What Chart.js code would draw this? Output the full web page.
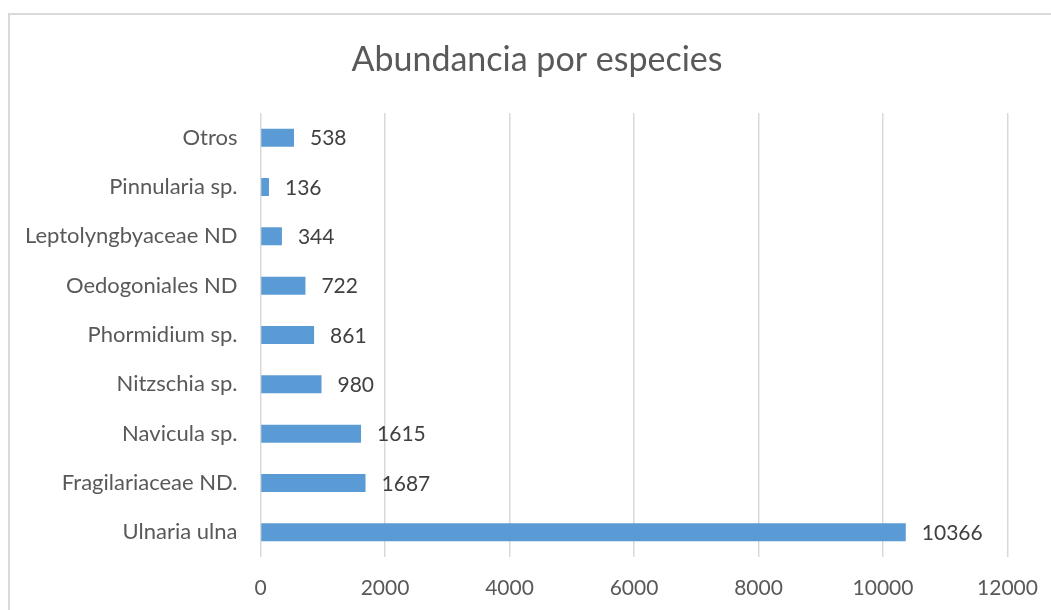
<!DOCTYPE html>
<html>
<head>
<meta charset="utf-8">
<script src="https://cdn.jsdelivr.net/npm/chart.js@4"></script>
<style>
  html, body { margin: 0; padding: 0; background: #fff; overflow: hidden; }
  #frame { position: absolute; left: 8px; top: 13px; width: 1100px; height: 700px; border: 2px solid #d9d9d9; }
  #wrap { position: absolute; left: 0; top: 0; width: 1051px; height: 610px; }
</style>
</head>
<body>
<div id="frame"></div>
<div id="wrap"><canvas id="speciesChart"></canvas></div>
<script>
const chartTitle = 'Abundancia por especies';
const species = ['Otros', 'Pinnularia sp.', 'Leptolyngbyaceae ND', 'Oedogoniales ND', 'Phormidium sp.',
                 'Nitzschia sp.', 'Navicula sp.', 'Fragilariaceae ND.', 'Ulnaria ulna'];
const abundance = [538, 136, 344, 722, 861, 980, 1615, 1687, 10366];
const xTicks = [0, 2000, 4000, 6000, 8000, 10000, 12000];

const FONT = 'Lato, "Open Sans", sans-serif';

// titulo y etiquetas de datos a mano
const labelPlugin = {
    id: 'labelPlugin',
    afterDatasetsDraw(chart) {
        const ctx = chart.ctx;
        ctx.save();
        ctx.font = '21px ' + FONT;
        ctx.fillStyle = '#404040';
        ctx.textBaseline = 'middle';
        ctx.textAlign = 'left';
        chart.getDatasetMeta(0).data.forEach((bar, i) => {
            ctx.fillText(String(abundance[i]), bar.x + 16, bar.y + 1);
        });
        ctx.font = '34px ' + FONT;
        ctx.fillStyle = '#595959';
        ctx.textAlign = 'center';
        ctx.fillText(chartTitle, 537, 60);
        ctx.restore();
    }
};

const ctx = document.getElementById('speciesChart').getContext('2d');
const myChart = new Chart(ctx, {
    type: 'bar',
    data: {
        labels: species,
        datasets: [{
            data: abundance,
            backgroundColor: '#5b9bd5',
            borderWidth: 0,
            categoryPercentage: 1,
            barPercentage: 0.365
        }]
    },
    options: {
        indexAxis: 'y',
        responsive: true,
        maintainAspectRatio: false,
        animation: false,
        layout: { padding: { top: 113, right: 43.5, left: 0, bottom: 0 } },
        plugins: {
            legend: { display: false },
            title: { display: false },
            tooltip: { enabled: false }
        },
        scales: {
            x: {
                min: 0,
                max: 12000,
                afterBuildTicks(axis) { axis.ticks = xTicks.map(v => ({ value: v })); },
                afterFit(axis) {
                    axis.height = 53;
                    axis.paddingLeft = 0;
                    axis.paddingRight = 0;
                },
                grid: { color: '#d9d9d9', lineWidth: 1.5, drawTicks: false },
                border: { display: false },
                ticks: {
                    color: '#595959', font: { family: FONT, size: 21 }, padding: 19, maxRotation: 0,
                    callback: v => String(v)
                }
            },
            y: {
                afterFit(axis) { axis.width = 260.5; },
                grid: { display: false, drawTicks: false },
                border: { display: false },
                ticks: { color: '#595959', font: { family: FONT, size: 22 }, padding: 23 }
            }
        }
    },
    plugins: [labelPlugin]
});
</script>
</body>
</html>
